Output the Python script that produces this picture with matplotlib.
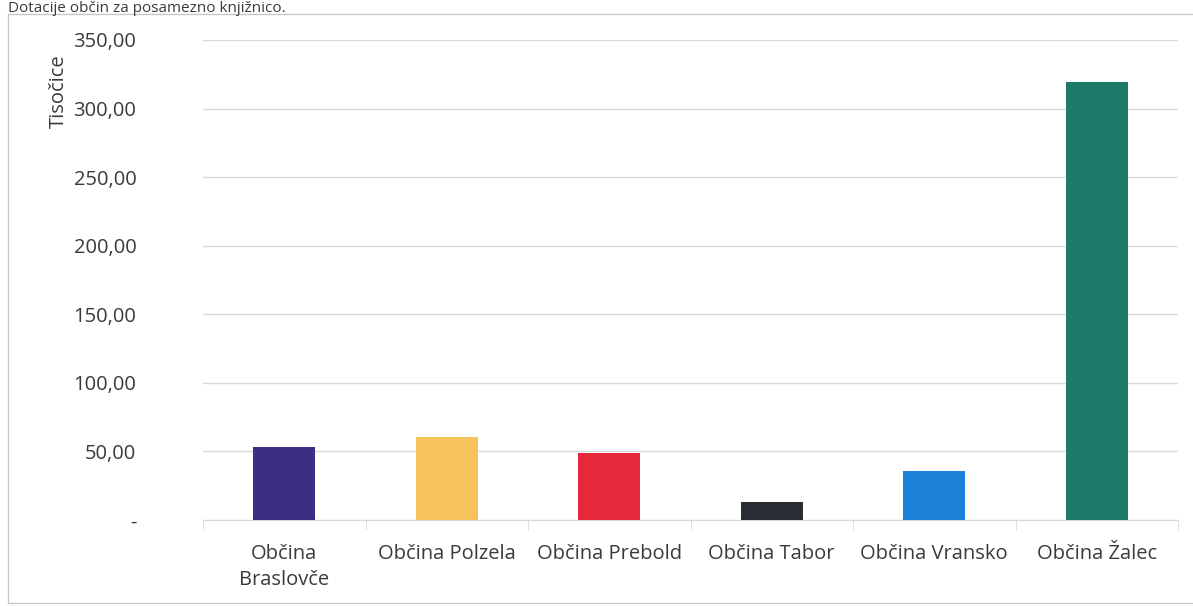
import matplotlib
matplotlib.use("Agg")
import matplotlib.pyplot as plt
from matplotlib.patches import Rectangle
from matplotlib.ticker import FixedLocator

TITLE = "Dotacije občin za posamezno knjižnico."
Y_LABEL = "Tisočice"
CATEGORIES = ["Občina\nBraslovče", "Občina Polzela", "Občina Prebold",
              "Občina Tabor", "Občina Vransko", "Občina Žalec"]
VALUES = [53.0, 60.3, 48.5, 12.8, 35.8, 319.5]
COLORS = ["#3b2f83", "#f6c25b", "#e6283b", "#2a2d33", "#1b80d7", "#1f7b69"]
Y_TICKS = [0, 50, 100, 150, 200, 250, 300, 350]

FONT = ["Open Sans", "DejaVu Sans"]
TEXT_COLOR = "#3a3a3a"
GRID_COLOR = "#d9d9d9"
FS = 14.5
W, H = 1193, 606


def fmt(v):
    if v == 0:
        return "-"
    return f"{v:.2f}".replace(".", ",")


def main():
    plt.rcParams["font.family"] = FONT
    fig = plt.figure(figsize=(W / 100, H / 100), dpi=100)
    fig.patches.append(Rectangle((8 / W, 1 - 603 / H), 1.0, (603 - 14) / H,
                                 transform=fig.transFigure, fill=False,
                                 edgecolor="#c8c8c8", linewidth=1))
    fig.text(8 / W, 1 - 1 / H, TITLE, fontsize=11, color=TEXT_COLOR,
             va="top", ha="left")

    left, right = 203 / W, 1178 / W
    bottom, top = 1 - 520 / H, 1 - 40 / H
    ax = fig.add_axes([left, bottom, right - left, top - bottom])
    x = list(range(len(CATEGORIES)))
    ax.bar(x, VALUES, width=0.38, color=COLORS, zorder=3)
    ax.set_xlim(-0.5, len(CATEGORIES) - 0.5)
    ax.set_ylim(0, 350)

    ax.set_yticks(Y_TICKS)
    ax.set_yticklabels([fmt(v) for v in Y_TICKS], fontsize=FS, color=TEXT_COLOR)
    ax.tick_params(axis="y", length=0, pad=48)
    ax.grid(axis="y", color=GRID_COLOR, linewidth=1, zorder=0)

    ax.set_xticks(x)
    ax.set_xticklabels(CATEGORIES, fontsize=FS, color=TEXT_COLOR, linespacing=1.4)
    ax.tick_params(axis="x", which="major", length=0, pad=17)
    ax.xaxis.set_minor_locator(FixedLocator([i - 0.5 for i in range(len(CATEGORIES) + 1)]))
    ax.tick_params(axis="x", which="minor", length=7, color=GRID_COLOR, direction="out")

    for s in ["top", "right", "left"]:
        ax.spines[s].set_visible(False)
    ax.spines["bottom"].set_color(GRID_COLOR)

    fig.text(59 / W, 1 - 91 / H, Y_LABEL, rotation=90, fontsize=FS,
             color=TEXT_COLOR, ha="center", va="center")

    fig.savefig("out.png", dpi=100)


if __name__ == "__main__":
    main()
